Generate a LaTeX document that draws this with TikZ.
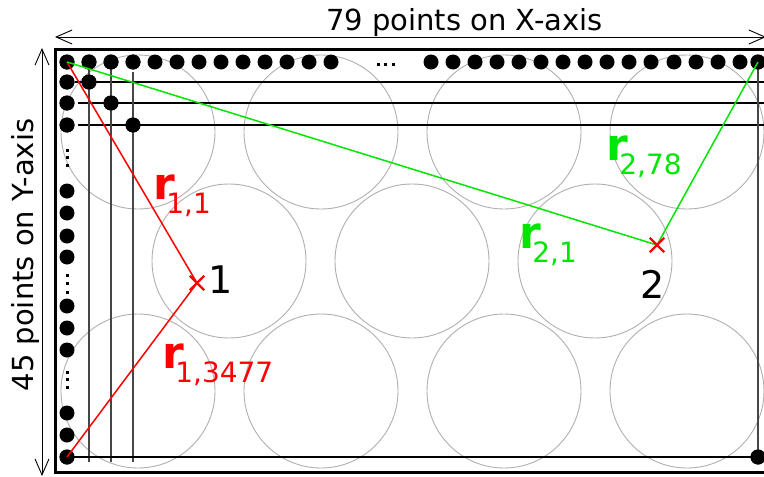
\documentclass[tikz,border=0pt]{standalone}
\usepackage{fontspec}
\setmainfont{DejaVu Sans}
\usetikzlibrary{arrows.meta,shapes.misc}
\definecolor{grn}{RGB}{0,230,0}
\definecolor{cgray}{RGB}{175,175,175}
\definecolor{vgray}{RGB}{70,70,70}
\newcommand{\rlabel}[1]{{\fontsize{44}{44}\selectfont\bfseries r}\kern-9pt\raisebox{-14pt}{\fontsize{28}{28}\selectfont #1}}
\begin{document}
\begin{tikzpicture}[x=1pt,y=-1pt,
  dot/.style={circle,fill=black,inner sep=0pt,minimum size=15pt},
  tiny/.style={rectangle,fill=black,inner sep=0pt,minimum size=3pt},
  circ/.style={draw=cgray,line width=0.9pt},
  hl/.style={draw=black,line width=1.2pt},
  vl/.style={draw=vgray,line width=1.6pt},
  axis/.style={draw=black,line width=0.9pt,{Straight Barb[length=16pt,width=14pt]}-{Straight Barb[length=16pt,width=14pt]}},
  xmark/.style={draw=red,cross out,line width=2.3pt,minimum size=12pt,inner sep=0pt},
  lbl/.style={anchor=base west,inner sep=0pt},
  axtext/.style={font=\fontsize{29}{29}\selectfont,inner sep=0pt,anchor=base}]
\useasboundingbox (0,0) rectangle (764,477);
% circles
\foreach \cx in {138,321,504,687} {\draw[circ] (\cx,132) circle (77); \draw[circ] (\cx,391) circle (77);}
\foreach \cx in {229,412,595} {\draw[circ] (\cx,261) circle (77);}
% coordinates
\coordinate (h1a) at (75,82); \coordinate (h1b) at (767,82);
\coordinate (h2a) at (78,103); \coordinate (h2b) at (767,103);
\coordinate (h3a) at (78,125); \coordinate (h3b) at (767,125);
\coordinate (v1b) at (89,462); \coordinate (v2b) at (111,462); \coordinate (v3b) at (133,462);
\coordinate (v3a) at (133,72);
% top row dots
\foreach [count=\i] \x in {67,89,111,133,155,177,199,221,243,265,287,309,331,431,453,475,497,519,541,563,585,607,629,651,674,696,718,740} {\node[dot] (t\i) at (\x,62) {};}
\node[dot] (tr) at (758,62) {};
% left column dots
\foreach [count=\i] \y in {82,103,125,191,213,236,257,306,328,350,413,435} {\node[dot] (l\i) at (67,\y) {};}
\node[dot] (bl) at (67,457) {};
\node[dot] (br) at (758,457) {};
% diagonal dots
\node[dot] (d1) at (89,82) {};
\node[dot] (d2) at (111,103) {};
\node[dot] (d3) at (133,125) {};
% grid lines
\draw[hl] (h1a) -- (h1b);
\draw[hl] (h2a) -- (h2b);
\draw[hl] (h3a) -- (h3b);
\draw[vl] (t2.center) -- (v1b);
\draw[vl] (t3.center) -- (v2b);
\draw[vl] (v3a) -- (v3b);
\draw[vl] (tr.center) -- (br.center);
\draw[hl] (bl.center) -- (br.center);
% redraw dots on top of lines
\foreach \n in {t1,t2,t3,t4,l1,l2,l3,d1,d2,d3,bl,br,tr} {\fill (\n) circle (7.5);}
% ellipsis marks
\foreach \x in {378,385.5,393} {\node[tiny] at (\x,64) {};}
\foreach \y in {150,157,165,275,283,292,372,379,387} {\node[tiny] at (67,\y) {};}
% points
\coordinate (p1) at (197,283);
\coordinate (p2) at (657,245);
% distance lines
\draw[red,line width=1.5pt] (t1.center) -- (p1);
\draw[red,line width=1.5pt] (bl.center) -- (p1);
\draw[grn,line width=1.5pt] (t1.center) -- (p2);
\draw[grn,line width=1.5pt] (tr.center) -- (p2);
\node[xmark] (x1) at (p1) {};
\node[xmark] (x2) at (p2) {};
\node[anchor=base west,inner sep=0pt,font=\fontsize{38}{38}\selectfont] (n1) at (208,293) {1};
\node[anchor=base west,inner sep=0pt,font=\fontsize{38}{38}\selectfont] (n2) at (640,298) {2};
% labels
\node[lbl,red] (r11) at (153.4,199) {\rlabel{1,1}};
\node[lbl,red] (r13477) at (162.4,368) {\rlabel{1,3477}};
\node[lbl,grn] (r21) at (519.4,248) {\rlabel{2,1}};
\node[lbl,grn] (r278) at (606.4,160) {\rlabel{2,78}};
% frame
\draw[line width=3pt] (55,49.5) rectangle (767,472.5);
% axes
\coordinate (xa) at (55,37); \coordinate (xb) at (766,37);
\coordinate (ya) at (42,48); \coordinate (yb) at (42,476);
\draw[axis] (xa) -- (xb);
\draw[axis] (ya) -- (yb);
\node[axtext] (xt) at (464.5,30) {79 points on X-axis};
\node[axtext,rotate=90] (yt) at (33,255) {45 points on Y-axis};
\end{tikzpicture}
\end{document}
